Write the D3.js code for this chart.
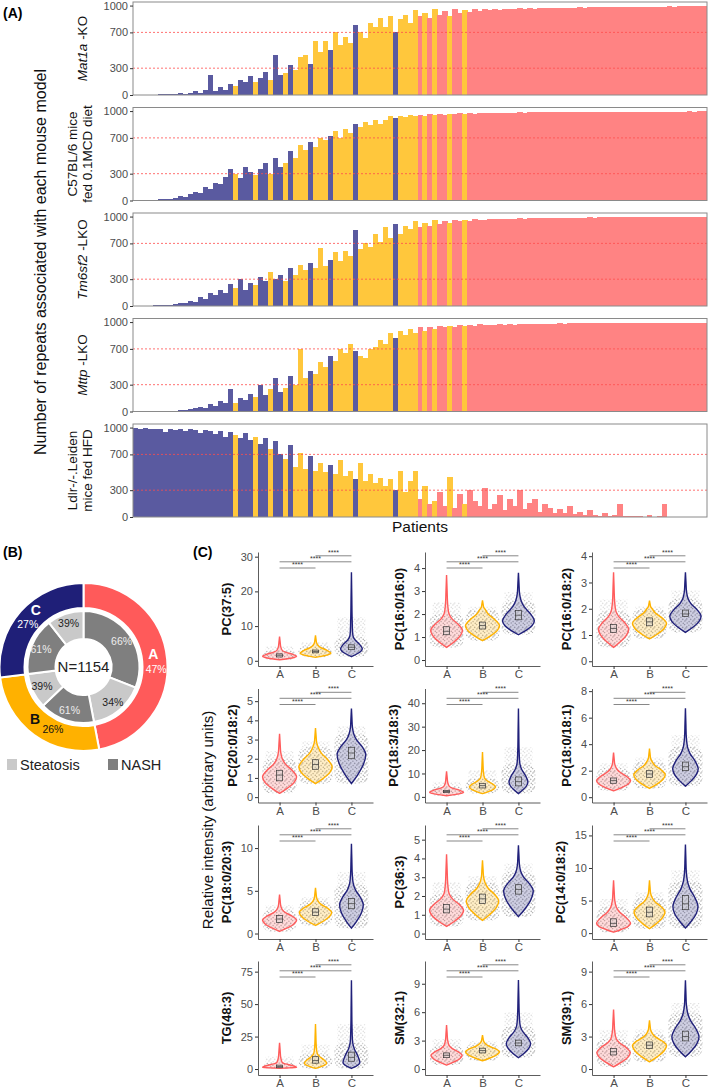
<!DOCTYPE html>
<html><head><meta charset="utf-8">
<script src="https://cdn.jsdelivr.net/npm/d3@7"></script>
<style>body{margin:0;background:#fff} svg{display:block} text{font-family:"Liberation Sans",Arial,sans-serif}</style>
</head><body><svg id="c" width="709" height="1090"></svg>
<script>
// ---------------- DATA ----------------
// Panel A: patients ordered as in the figure, cluster of each patient (binned)
const patientCluster = ("CCCCCCCCCCCCCCCCCCCC" + "BCCCBCCBCC" + "BCBBBCBBBC" + "BBBBCBBBBB" +
  "BBCBBBBABA" + "BAABAABAAA" + "AAAAAAAAAA" + "AAAAAAAAAA" + "AAAAAAAAAA" + "AAAAAAAAAA" + "AAAAA").split("");
const repeatsMat1a = [0,0,2,3, 5,8,10,6, 12,20,15,25, 40,25,60,220, 50,90,60,120, 100,170,140,210, 150,190,260,170, 450,220,
  250,330,280,420, 450,350,600,480, 600,500,700,560, 650,580,780,700, 640,800,760,860, 760,880,700,850, 900,800,950,880,
  920,860,960,900, 940,880,960,920, 950,930,960,940, 960,945,965,955,960,
  965,958,968,962,970,965,972,968,975,970,975,972,978,975,980,978,982,980,982,985,984,985,986,985,987,986,988,987,988,989,988,989,990,989,990,990,990,991,990,991];
const repeatsMCD = [0,2,3,5, 8,12,15,20, 30,45,40,70, 100,80,150,130, 200,180,260,350, 300,250,380,320, 280,350,420,300, 480,380,
  420,550,480,620, 560,650,600,700, 680,720,780,700, 800,760,850,820, 880,840,900,860, 900,940,920,950, 930,955,945,960,
  950,965,955,970, 960,970,965,975,968,978,972,980,
  975,980,978,982,980,984,982,985,984,986,985,987,986,988,987,989,988,990,989,990,990,991,990,992,991,992,992,993,992,993,993,994,993,994,994,995,994,995,995,995,995,996,995,996,996];
const repeatsTm6sf2 = [0,0,2,4, 6,10,8,15, 20,35,30,60, 50,100,80,140, 120,180,150,250, 200,300,180,260, 240,320,280,380, 300,350,
  280,420,350,460, 400,480,430,650, 450,520,600,500, 620,560,850,640, 700,660,800,720, 880,760,920,800, 900,860,950,880,
  930,900,960,920, 950,930,965,945,960,950,970,958,
  965,972,968,975,970,978,974,980,976,982,980,984,982,986,984,987,986,988,987,989,988,990,989,990,990,991,990,992,991,992,992,993,992,993,993,994,993,994,994,995,994,995,995,995,995];
const repeatsMttp = [0,0,0,0, 2,4,5,8, 10,15,20,30, 35,50,40,80, 60,120,90,250, 100,150,130,200, 160,300,190,250, 380,220,
  260,400,300,700, 380,450,420,550, 500,620,560,700, 650,750,680,620, 600,700,720,800, 760,880,820,900, 850,920,880,950,
  900,940,920,960, 940,960,950,970,955,965,960,975,
  962,970,966,973,968,976,972,978,975,980,978,982,980,984,982,985,984,986,985,987,986,988,987,989,988,989,989,990,989,990,990,991,990,991,991,992,991,992,992,993,992,993,993,993,993];
const repeatsLdlr = [990,985,990,980, 985,980,950,985, 975,980,960,985, 970,940,975,960, 930,960,900,950, 920,880,940,860, 900,820,880,760, 850,700,
  650,800,560,720, 540,680,520,600, 500,580,480,640, 460,520,420,600, 400,480,380,440, 350,420,300,520, 280,400,
  520,200,350,150, 180,280,120,450, 100,260,150,300, 180,120,320,90, 150,250,80,200, 120,300,90,160, 200,60,140,100,
  50,90,40,120, 30,60,20,80, 25,15,40,10, 20,150,10,15, 8,12,5,25, 5,8,150,3, 2,1,3,0,1,0,0];
const mouseModelRepeats = [repeatsMat1a, repeatsMCD, repeatsTm6sf2, repeatsMttp, repeatsLdlr];
const repeatTicks = [0, 300, 700, 1000];
const repeatRefLines = [300, 700];

// Panel B
const clusterNames = ["A", "B", "C"];
const clusterShare = [47, 26, 27];
const nashShare = [66, 61, 61];
const steatosisShare = [34, 39, 39];
const totalPatients = 1154;

// Panel C
const lipids = ["PC(37:5)", "PC(16:0/16:0)", "PC(16:0/18:2)", "PC(20:0/18:2)", "PC(18:3/18:3)", "PC(18:0/18:1)",
  "PC(18:0/20:3)", "PC(36:3)", "PC(14:0/18:2)", "TG(48:3)", "SM(32:1)", "SM(39:1)"];
const lipidTicks = [[0,10,20,30],[0,1,2,3,4],[0,1,2,3,4],[0,1,2,3,4,5],[0,10,20,30,40],[0,2,4,6,8],
  [0,5,10],[0,1,2,3,4,5],[0,5,10,15],[0,25,50,75],[0,3,6,9],[0,3,6,9]];
const lipidDomains = [[-1.5,31.35],[-0.26,4.7],[-0.18,4.16],[-0.28,5.66],[-2.4,46.3],[-0.4,8.2],
  [-0.64,12.7],[-0.29,5.78],[-0.9,16.6],[-4.6,83.2],[-0.63,11.4],[-0.55,9.98]];
// per lipid: [min, mode, shoulder, max, q1, median, q3]
const violinA = [[0.3,1.3,3,7,1.1,1.6,2.0],[0.55,1.3,2.0,3.7,1.1,1.25,1.45],[0.53,1.23,1.9,3.39,1.1,1.25,1.4],
  [0.2,1.06,2.0,3.3,0.85,1.15,1.4],[0.5,2.0,4.5,10.9,1.8,2.3,2.8],[0.48,1.25,2.2,3.37,1.05,1.25,1.45],
  [0.24,1.6,2.8,4.57,1.3,1.7,2.1],[0.38,1.25,2.1,4.22,1.1,1.3,1.55],[0.15,1.5,4.0,8.1,1.0,1.5,2.2],
  [0.5,1.5,5,20.2,1,2,3],[0.42,1.45,2.5,4.64,1.2,1.45,1.7],[0.21,1.55,2.8,5.5,1.3,1.6,1.9]];
const violinB = [[1,2.2,4.5,7.3,2.3,2.7,3.1],[0.84,1.5,2.2,2.6,1.35,1.5,1.65],[0.85,1.45,2.0,2.31,1.35,1.5,1.65],
  [0.7,1.58,2.6,3.6,1.45,1.7,1.95],[1.4,4.3,8,19.2,3.8,4.8,5.8],[0.66,1.7,2.7,3.67,1.5,1.75,2.0],
  [0.94,2.5,3.8,5.36,2.1,2.5,2.9],[0.7,1.75,2.7,3.9,1.6,1.85,2.1],[0.67,3.3,5.5,8.1,2.5,3.2,4.0],
  [0.5,4.5,12,34.6,4.5,6.5,9.5],[0.87,1.85,2.7,3.58,1.7,1.95,2.2],[0.67,2.2,3.3,4.5,1.9,2.2,2.5]];
const violinC = [[1.2,3.5,7,25.5,3.2,3.9,4.6],[1.1,1.7,2.6,3.8,1.75,1.95,2.15],[1.1,1.72,2.4,3.39,1.7,1.8,1.95],
  [0.71,2.27,3.3,4.62,2.0,2.3,2.6],[1.4,6.4,14,37.7,4.7,6.5,8.5],[0.83,2.17,3.8,6.7,2.0,2.3,2.65],
  [0.63,3.4,5.8,10.5,2.9,3.5,4.1],[0.9,2.3,3.3,4.7,2.1,2.35,2.6],[0.8,4.1,8,13.6,3.6,4.5,5.8],
  [0.5,5,20,68.4,6,9,13],[1.19,2.7,4.5,9.4,2.45,2.75,3.05],[1.13,3.0,5.2,8.2,2.6,3.0,3.5]];
const violinByCluster = {A: violinA, B: violinB, C: violinC};
const comparisons = [["A","B"],["A","C"],["B","C"]];
const signif = "****";

// ---------------- STYLE ----------------
const FONT = "Liberation Sans, Arial, sans-serif";
const barColor = {A:"#ff8383", B:"#ffc73c", C:"#5a5aa0"};
const ringColor = {A:"#ff5a5a", B:"#ffb100", C:"#1f1f78"};
const violinColor = {A:"#ff5c5c", B:"#ffb300", C:"#20207a"};
const nashColor = "#7f7f7f", steatColor = "#c9c9c9";
const intFmt = d3.format("d");

const svg = d3.select("#c");
const defs = svg.append("defs");
// irregular dot texture used to suggest the jittered sample points
const pat = defs.append("pattern").attr("id","dots").attr("width",8).attr("height",8).attr("patternUnits","userSpaceOnUse");
[[0.9,1.2],[4.6,0.6],[2.7,3.4],[6.8,2.9],[1.1,5.6],[4.9,5.1],[7.2,7.0],[3.3,7.4],[5.9,4.0]].forEach(([px,py]) =>
  pat.append("circle").attr("cx",px).attr("cy",py).attr("r",0.8).attr("fill","#b3b3b3"));

// ---------------- PANEL A ----------------
svg.append("text").attr("x",3).attr("y",18).attr("font-size",14).attr("font-weight","bold").text("(A)");
const xA = d3.scaleBand().domain(d3.range(patientCluster.length)).range([133,707]).padding(0);
const modelLabelLines = [
  [[["Mat1a",true],[" -KO",false]]],
  [[["C57BL/6 mice",false]],[["fed 0.1MCD diet",false]]],
  [[["Tm6sf2",true],[" -LKO",false]]],
  [[["Mttp",true],[" -LKO",false]]],
  [[["Ldlr-/-.Leiden",false]],[["mice fed HFD",false]]]
];
mouseModelRepeats.forEach((vals, k) => {
  const top = 2 + 105.5*k, bot = top + 93;
  const y = d3.scaleLinear().domain([0,1040]).range([bot, top]);
  const g = svg.append("g");
  g.append("g").attr("shape-rendering","crispEdges").selectAll("rect").data(vals).join("rect")
    .attr("x",(d,i)=>xA(i)).attr("width",xA.bandwidth()+0.4)
    .attr("y",d=>y(d)).attr("height",d=>y(0)-y(d))
    .attr("fill",(d,i)=>barColor[patientCluster[i]]);
  g.selectAll("line.ref").data(repeatRefLines).join("line").attr("class","ref")
    .attr("x1",133).attr("x2",707).attr("y1",d=>y(d)).attr("y2",d=>y(d))
    .attr("stroke","#ff4d4d").attr("stroke-width",0.8).attr("stroke-dasharray","2,2");
  g.append("rect").attr("x",133).attr("y",top).attr("width",574).attr("height",93)
    .attr("fill","none").attr("stroke","#8a8a8a").attr("stroke-width",1);
  const ax = g.append("g").attr("transform","translate(133,0)")
    .call(d3.axisLeft(y).tickValues(repeatTicks).tickFormat(intFmt).tickSize(3).tickSizeOuter(0).tickPadding(2));
  ax.select(".domain").remove();
  ax.selectAll("line").attr("stroke","#333");
  ax.selectAll("text").attr("font-size",11).attr("fill","#4d4d4d").style("font-family",FONT);
  const lines = modelLabelLines[k];
  const cy = (top+bot)/2;
  lines.forEach((ln, j) => {
    const bx = lines.length === 1 ? 87 : 77 + 15*j;
    const t = svg.append("text").attr("transform",`translate(${bx},${cy}) rotate(-90)`)
      .attr("text-anchor","middle").attr("font-size",13.5).attr("fill","#111");
    ln.forEach(([s, it]) => t.append("tspan").attr("font-style", it ? "italic" : "normal").text(s));
  });
});
svg.append("text").attr("transform","translate(46,262) rotate(-90)").attr("text-anchor","middle")
  .attr("font-size",16).attr("fill","#111").text("Number of repeats associated with each mouse model");
svg.append("text").attr("x",420).attr("y",532).attr("text-anchor","middle").attr("font-size",15.5).attr("fill","#111").text("Patients");

// ---------------- PANEL B ----------------
svg.append("text").attr("x",3).attr("y",557).attr("font-size",14).attr("font-weight","bold").text("(B)");
const cxB = 83.5, cyB = 667;
const gB = svg.append("g").attr("transform",`translate(${cxB},${cyB})`);
const pieB = d3.pie().sort(null).value(d=>d)(clusterShare);
const outerArc = d3.arc().innerRadius(59).outerRadius(84);
gB.selectAll("path.outer").data(pieB).join("path").attr("class","outer").attr("d",outerArc)
  .attr("fill",(d,i)=>ringColor[clusterNames[i]]).attr("stroke","#fff").attr("stroke-width",2);
const innerSlices = [];
pieB.forEach((p,i) => {
  const span = p.endAngle - p.startAngle;
  const mid = p.startAngle + span*nashShare[i]/(nashShare[i]+steatosisShare[i]);
  innerSlices.push({startAngle:p.startAngle, endAngle:mid, kind:"NASH", pct:nashShare[i]});
  innerSlices.push({startAngle:mid, endAngle:p.endAngle, kind:"Steatosis", pct:steatosisShare[i]});
});
const innerArc = d3.arc().innerRadius(28).outerRadius(56);
gB.selectAll("path.inner").data(innerSlices).join("path").attr("class","inner").attr("d",innerArc)
  .attr("fill",d=>d.kind==="NASH"?nashColor:steatColor).attr("stroke","#fff").attr("stroke-width",2);
const labelArc = d3.arc().innerRadius(46).outerRadius(46);
gB.selectAll("text.inl").data(innerSlices).join("text").attr("class","inl")
  .attr("transform",d=>`translate(${labelArc.centroid(d)})`).attr("text-anchor","middle").attr("dy","0.35em")
  .attr("font-size",10.5).attr("fill",d=>d.kind==="NASH"?"#eeeeee":"#222").text(d=>d.pct+"%");
const outerLabelArc = d3.arc().innerRadius(69).outerRadius(69);
const letterOff = {A:[1,-6], B:[-8,-4], C:[4,-11]};
const pctOff = {A:[4,8.5], B:[10,7], C:[-4,3]};
pieB.forEach((p,i) => {
  const nm = clusterNames[i];
  const [px,py] = outerLabelArc.centroid(p);
  const col = nm==="B" ? "#111" : "#fff";
  gB.append("text").attr("x",px+letterOff[nm][0]).attr("y",py+letterOff[nm][1]).attr("dy","0.35em")
    .attr("text-anchor","middle").attr("font-size",14).attr("font-weight","bold").attr("fill",col).text(nm);
  gB.append("text").attr("x",px+pctOff[nm][0]).attr("y",py+pctOff[nm][1]).attr("dy","0.35em")
    .attr("text-anchor","middle").attr("font-size",10.5).attr("fill",col).text(clusterShare[i]+"%");
});
gB.append("text").attr("text-anchor","middle").attr("dy","0.35em").attr("font-size",15).attr("fill","#222").text("N="+totalPatients);
const legendB = [["Steatosis",steatColor,7],["NASH",nashColor,108]];
legendB.forEach(([t,c,lx]) => {
  svg.append("rect").attr("x",lx).attr("y",759).attr("width",10).attr("height",11).attr("fill",c);
  svg.append("text").attr("x",lx+13).attr("y",770).attr("font-size",14.5).attr("fill","#222").text(t);
});

// ---------------- PANEL C ----------------
svg.append("text").attr("x",193).attr("y",557).attr("font-size",14).attr("font-weight","bold").text("(C)");
svg.append("text").attr("transform","translate(213,820) rotate(-90)").attr("text-anchor","middle")
  .attr("font-size",15).attr("fill","#111").text("Relative intensity (arbitrary units)");
const colX = [258, 425, 592], rowTop = [552, 688.5, 825, 961], pH = 114, pW = 115;
function knots(s){
  const [lo,mode,sh,hi] = s;
  return [[lo,0],[lo+0.3*(mode-lo),0.45],[lo+0.65*(mode-lo),0.85],[mode,1],
    [mode+0.35*(sh-mode),0.75],[mode+0.7*(sh-mode),0.35],[sh,0.16],
    [sh+0.25*(hi-sh),0.07],[sh+0.6*(hi-sh),0.035],[hi,0]];
}
function areaOf(k){ let a=0; for(let i=1;i<k.length;i++) a += (k[i][0]-k[i-1][0])*(k[i][1]+k[i-1][1])/2; return a; }
lipids.forEach((name, p) => {
  const r = Math.floor(p/3), c = p%3;
  const ax0 = colX[c], top = rowTop[r], bot = top + pH;
  const xp = d3.scalePoint().domain(clusterNames).range([ax0, ax0+pW]).padding(0.6);
  const y = d3.scaleLinear().domain(lipidDomains[p]).range([bot, top]);
  const g = svg.append("g");
  const ks = clusterNames.map(nm => knots(violinByCluster[nm][p]));
  const areas = ks.map(areaOf);
  const minA = d3.min(areas);
  clusterNames.forEach((nm, gi) => {
    const s = violinByCluster[nm][p];
    const cx = xp(nm);
    const w = 17*Math.sqrt(minA/areas[gi]);
    // jittered point cloud (texture)
    g.append("rect").attr("x",cx-17).attr("width",34).attr("y",y(s[2])).attr("height",y(s[0])-y(s[2]))
      .attr("rx",8).attr("fill","url(#dots)").attr("opacity",0.95);
    const sparseTop = s[2] + 0.3*(s[3]-s[2]);
    g.append("rect").attr("x",cx-14).attr("width",28).attr("y",y(sparseTop)).attr("height",y(s[2])-y(sparseTop))
      .attr("fill","url(#dots)").attr("opacity",0.4);
    const area = d3.area().curve(d3.curveCatmullRom).y(d=>y(d[0])).x0(d=>cx-d[1]*w).x1(d=>cx+d[1]*w);
    g.append("path").attr("d",area(ks[gi])).attr("fill",violinColor[nm]).attr("fill-opacity",0.22)
      .attr("stroke",violinColor[nm]).attr("stroke-width",1.4);
    g.append("rect").attr("x",cx-3).attr("width",6).attr("y",y(s[6])).attr("height",y(s[4])-y(s[6]))
      .attr("fill","#cfcfcf").attr("fill-opacity",0.4).attr("stroke","#333").attr("stroke-width",0.7);
    g.append("line").attr("x1",cx-3).attr("x2",cx+3).attr("y1",y(s[5])).attr("y2",y(s[5]))
      .attr("stroke","#333").attr("stroke-width",0.7);
  });
  const brOff = [16, 9.8, 3.8];
  comparisons.forEach(([a,b], j) => {
    const yy = top + brOff[j];
    g.append("line").attr("x1",xp(a)).attr("x2",xp(b)).attr("y1",yy).attr("y2",yy).attr("stroke","#555").attr("stroke-width",0.7);
    g.append("text").attr("x",(xp(a)+xp(b))/2).attr("y",yy-1).attr("text-anchor","middle")
      .attr("font-size",7).attr("fill","#333").text(signif);
  });
  const ya = g.append("g").attr("transform",`translate(${ax0},0)`)
    .call(d3.axisLeft(y).tickValues(lipidTicks[p]).tickFormat(intFmt).tickSize(3).tickSizeOuter(0).tickPadding(2));
  const xa = g.append("g").attr("transform",`translate(0,${bot})`)
    .call(d3.axisBottom(xp).tickSize(3).tickSizeOuter(0).tickPadding(1));
  [ya,xa].forEach(a => {
    a.select(".domain").attr("stroke","#333").attr("stroke-width",0.8);
    a.selectAll("line").attr("stroke","#333");
    a.selectAll("text").attr("fill","#4d4d4d").style("font-family",FONT);
  });
  ya.selectAll("text").attr("font-size",11);
  xa.selectAll("text").attr("font-size",11.5);
  const maxLen = d3.max(lipidTicks[p], v => String(v).length);
  g.append("text").attr("transform",`translate(${ax0-15-6*maxLen},${top+pH/2}) rotate(-90)`).attr("text-anchor","middle")
    .attr("font-size",13).attr("font-weight","bold").attr("fill","#111").text(name);
});
</script></body></html>
